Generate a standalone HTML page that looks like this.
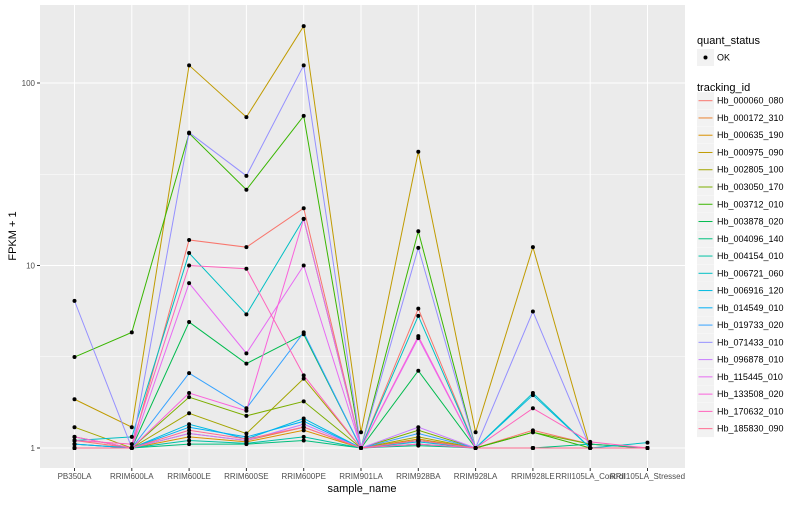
<!DOCTYPE html>
<html><head><meta charset="utf-8"><style>
body{margin:0;background:#fff;}
svg{font-family:"Liberation Sans",sans-serif;}
</style></head><body>
<svg id="chart" width="800" height="500" xmlns="http://www.w3.org/2000/svg">
<rect x="40" y="5" width="645" height="463" fill="#EBEBEB"/>
<g id="grid"></g><g id="lines"></g><g id="points"></g><g id="axes"></g><g id="legend"></g>
</svg>
<script>
const categories=["PB350LA","RRIM600LA","RRIM600LE","RRIM600SE","RRIM600PE","RRIM901LA","RRIM928BA","RRIM928LA","RRIM928LE","RRII105LA_Control","RRII105LA_Stressed"];
const seriesNames=["Hb_000060_080","Hb_000172_310","Hb_000635_190","Hb_000975_090","Hb_002805_100","Hb_003050_170","Hb_003712_010","Hb_003878_020","Hb_004096_140","Hb_004154_010","Hb_006721_060","Hb_006916_120","Hb_014549_010","Hb_019733_020","Hb_071433_010","Hb_096878_010","Hb_115445_010","Hb_133508_020","Hb_170632_010","Hb_185830_090"];
const seriesColors=["#F8766D","#EA8331","#D89000","#C09B00","#A3A500","#7CAE00","#39B600","#00BB4E","#00BF7D","#00C1A3","#00BFC4","#00BAE0","#00B0F6","#35A2FF","#9590FF","#C77CFF","#E76BF3","#FA62DB","#FF62BC","#FF6C91"];
const s01=[1.1,1.0,13.8,12.6,20.6,1.0,5.8,1.0,1.25,1.05,1.0];
const s02=[1.05,1.0,1.2,1.1,1.3,1.0,1.1,1.0,1.0,1.0,1.0];
const s03=[1.0,1.0,1.15,1.08,1.25,1.0,1.12,1.0,1.0,1.0,1.0];
const s04=[1.85,1.3,125,65,205,1.22,42,1.22,12.6,1.0,1.0];
const s05=[1.3,1.0,1.55,1.2,2.4,1.0,1.15,1.0,1.0,1.0,1.0];
const s06=[1.15,1.0,1.9,1.5,1.8,1.0,1.25,1.0,1.22,1.05,1.0];
const s07=[3.15,4.3,53,26,66,1.0,15.4,1.0,1.22,1.0,1.0];
const s08=[1.0,1.0,4.9,2.9,4.2,1.0,2.65,1.0,1.0,1.0,1.0];
const s09=[1.0,1.0,1.05,1.05,1.1,1.0,1.03,1.0,1.0,1.05,1.0];
const s10=[1.05,1.0,1.1,1.06,1.15,1.0,1.05,1.0,1.0,1.0,1.0];
const s11=[1.1,1.15,11.7,5.4,18,1.0,5.3,1.0,2.0,1.0,1.07];
const s12=[1.0,1.0,1.35,1.12,1.45,1.0,1.08,1.0,1.95,1.0,1.0];
const s13=[1.05,1.0,1.3,1.15,1.4,1.0,1.1,1.0,1.0,1.0,1.0];
const s14=[1.0,1.0,2.57,1.65,4.3,1.0,1.2,1.0,1.0,1.0,1.0];
const s15=[6.4,1.0,53.5,31,125,1.0,12.5,1.0,5.6,1.0,1.0];
const s16=[1.0,1.0,1.2,1.1,1.35,1.0,1.3,1.0,1.0,1.0,1.0];
const s17=[1.0,1.0,8.0,3.3,10,1.0,4.0,1.0,1.0,1.0,1.0];
const s18=[1.15,1.0,2.0,1.6,18,1.0,4.1,1.0,1.0,1.0,1.0];
const s19=[1.1,1.05,10,9.6,2.5,1.0,1.05,1.0,1.65,1.08,1.0];
const s20=[1.0,1.0,1.25,1.12,1.3,1.0,1.1,1.0,1.0,1.0,1.0];
const seriesValues=[s01,s02,s03,s04,s05,s06,s07,s08,s09,s10,s11,s12,s13,s14,s15,s16,s17,s18,s19,s20];
const yTicks=[1,10,100];
const yTickLabels=["1","10","100"];
const yMinor=[3.1623,31.623];

const NS="http://www.w3.org/2000/svg";
function xScale(i){return 74.5+i*57.3;}
function yScale(v){return 448-Math.log10(v)*182.5;}
function mk(tag,attrs,parent){const e=document.createElementNS(NS,tag);for(const k in attrs)e.setAttribute(k,attrs[k]);parent.appendChild(e);return e;}
const grid=document.getElementById('grid'),lines=document.getElementById('lines'),pts=document.getElementById('points'),axes=document.getElementById('axes'),leg=document.getElementById('legend');
yMinor.forEach(v=>{const l=mk('line',{x1:40,x2:685,y1:yScale(v),y2:yScale(v),stroke:'#fff','stroke-width':0.5},grid);

});
yTicks.forEach((v,i)=>{const y=yScale(v);const l=mk('line',{x1:40,x2:685,y1:y,y2:y,stroke:'#fff','stroke-width':1},grid);


mk('line',{x1:37,x2:40,y1:y,y2:y,stroke:'#333'},axes);
const t=mk('text',{x:35,y:y+3,'text-anchor':'end','font-size':8,fill:'#4d4d4d'},axes);t.textContent=yTickLabels[i];

});
categories.forEach((c,i)=>{const x=xScale(i);const l=mk('line',{x1:x,x2:x,y1:5,y2:468,stroke:'#fff','stroke-width':1},grid);


mk('line',{x1:x,x2:x,y1:468,y2:471,stroke:'#333'},axes);
const t=mk('text',{x:x,y:479,'text-anchor':'middle','font-size':8,fill:'#4d4d4d'},axes);t.textContent=c;

});
seriesValues.forEach((vals,s)=>{const p=mk('polyline',{points:vals.map((v,i)=>xScale(i)+','+yScale(v)).join(' '),fill:'none',stroke:seriesColors[s],'stroke-width':1},lines);


vals.forEach((v,i)=>{const c=mk('circle',{cx:xScale(i),cy:yScale(v),r:2,fill:'#000'},pts);

});});
let t=mk('text',{x:362,y:492,'text-anchor':'middle','font-size':11,fill:'#000'},axes);t.textContent='sample_name';


t=mk('text',{x:16,y:236,'text-anchor':'middle','font-size':11,fill:'#000',transform:'rotate(-90 16 236)'},axes);t.textContent='FPKM + 1';


// legend
t=mk('text',{x:697,y:44,'font-size':11,fill:'#000'},leg);t.textContent='quant_status';


let r=mk('rect',{x:697,y:49,width:17,height:17,fill:'#F2F2F2'},leg);


mk('circle',{cx:705.5,cy:57.5,r:2,fill:'#000'},leg);
t=mk('text',{x:717,y:60.5,'font-size':9,fill:'#000'},leg);t.textContent='OK';


t=mk('text',{x:697,y:91,'font-size':11,fill:'#000'},leg);t.textContent='tracking_id';


seriesNames.forEach((n,i)=>{const y=100.7+i*17.26;
const g=mk('g',{},leg);


mk('rect',{x:697,y:y-8.5,width:17,height:17,fill:'#F2F2F2'},g);
mk('line',{x1:698.5,x2:712.5,y1:y,y2:y,stroke:seriesColors[i],'stroke-width':1},g);
const tt=mk('text',{x:717,y:y+3,'font-size':9,fill:'#000'},g);tt.textContent=n;});
</script>
</body></html>
